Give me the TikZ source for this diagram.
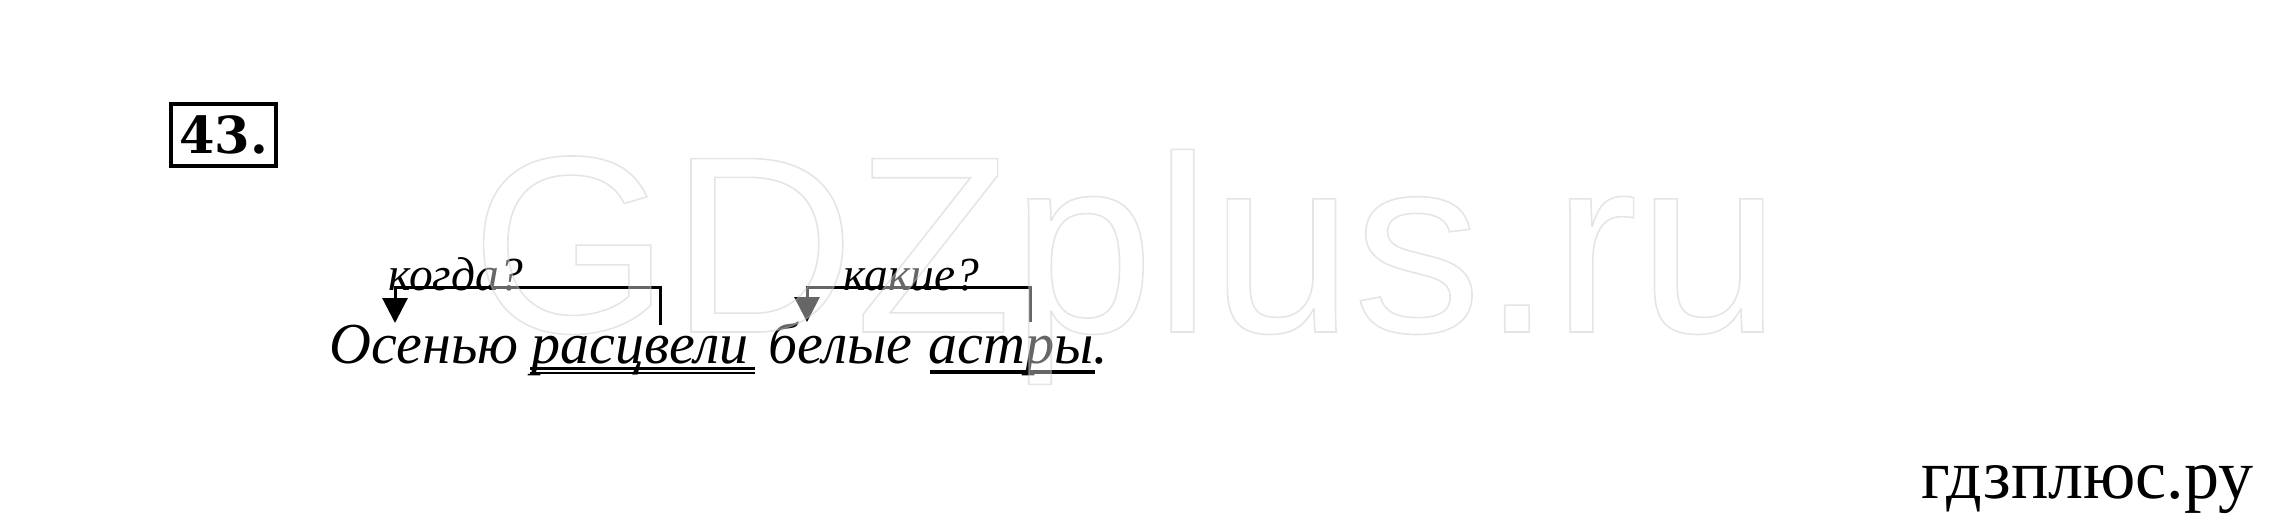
\documentclass[tikz,border=0pt]{standalone}
\usepackage{fontspec}
\setmainfont{Liberation Serif}
\newfontfamily\wmfont{Liberation Sans}
\newfontfamily\numfont{DejaVu Serif}
\usetikzlibrary{arrows.meta,positioning}

\begin{document}
\begin{tikzpicture}[x=0.01cm,y=-0.01cm,
	word/.style={anchor=base west,inner sep=0pt,font=\fontsize{16.5}{19}\selectfont\itshape},
	question/.style={anchor=base west,inner sep=0pt,font=\fontsize{13.5}{16}\selectfont\itshape},
	qline/.style={line width=0.85pt,-{Triangle[width=0.25cm,length=0.25cm]}},
	uline/.style={line width=1.1pt}]
	
	\useasboundingbox (0,0) rectangle (2270,520);
	
	\node[draw,line width=1.14pt,minimum width=1.05cm,minimum height=0.62cm,inner sep=0pt,
	font=\numfont\bfseries\fontsize{14.5}{17}\selectfont] (num) at (223.5,135) {43.};
	
	\node[word] (w1) at (329,363) {Осенью};
	\node[word] (w2) at (531,363) {расцвели};
	\node[word] (w3) at (768,363) {белые};
	\node[word] (w4) at (928,363) {астры.};
	
	\node[question] (q1) at (388,290) {когда?};
	\node[question] (q2) at (843,290) {какие?};
	
	% underlines
	\draw[line width=0.85pt] (530,368) -- (755,368);
	\draw[line width=0.6pt] (530,373) -- (755,373);
	\draw[uline] (930,372) -- (1095,372);
	
	% questions
	\coordinate (c1) at (660,325);
	\coordinate (c2) at (395,323);
	\coordinate (c3) at (1030,322);
	\coordinate (c4) at (807,322);
	\draw[qline] (c1) -- ++(0,-38) -| (c2);
	\draw[qline] (c3) -- ++(0,-35) -| (c4);
	
	\node[anchor=base east,inner sep=0pt,font=\fontsize{19.9}{23}\selectfont] (site) at (2254,498) {гдзплюс.ру};
	
	% watermark
	\node[anchor=base west,inner sep=0pt,text=white,text opacity=0.4,
	font=\wmfont\fontsize{71.7}{80}\selectfont] (wm) at (470,332)
	{\scalebox{1.016}[1]{\special{pdf:literal direct 2 Tr 0.75 G 0.45 w}GDZplus.ru\special{pdf:literal direct 0 Tr}}};
\end{tikzpicture}
\end{document}
